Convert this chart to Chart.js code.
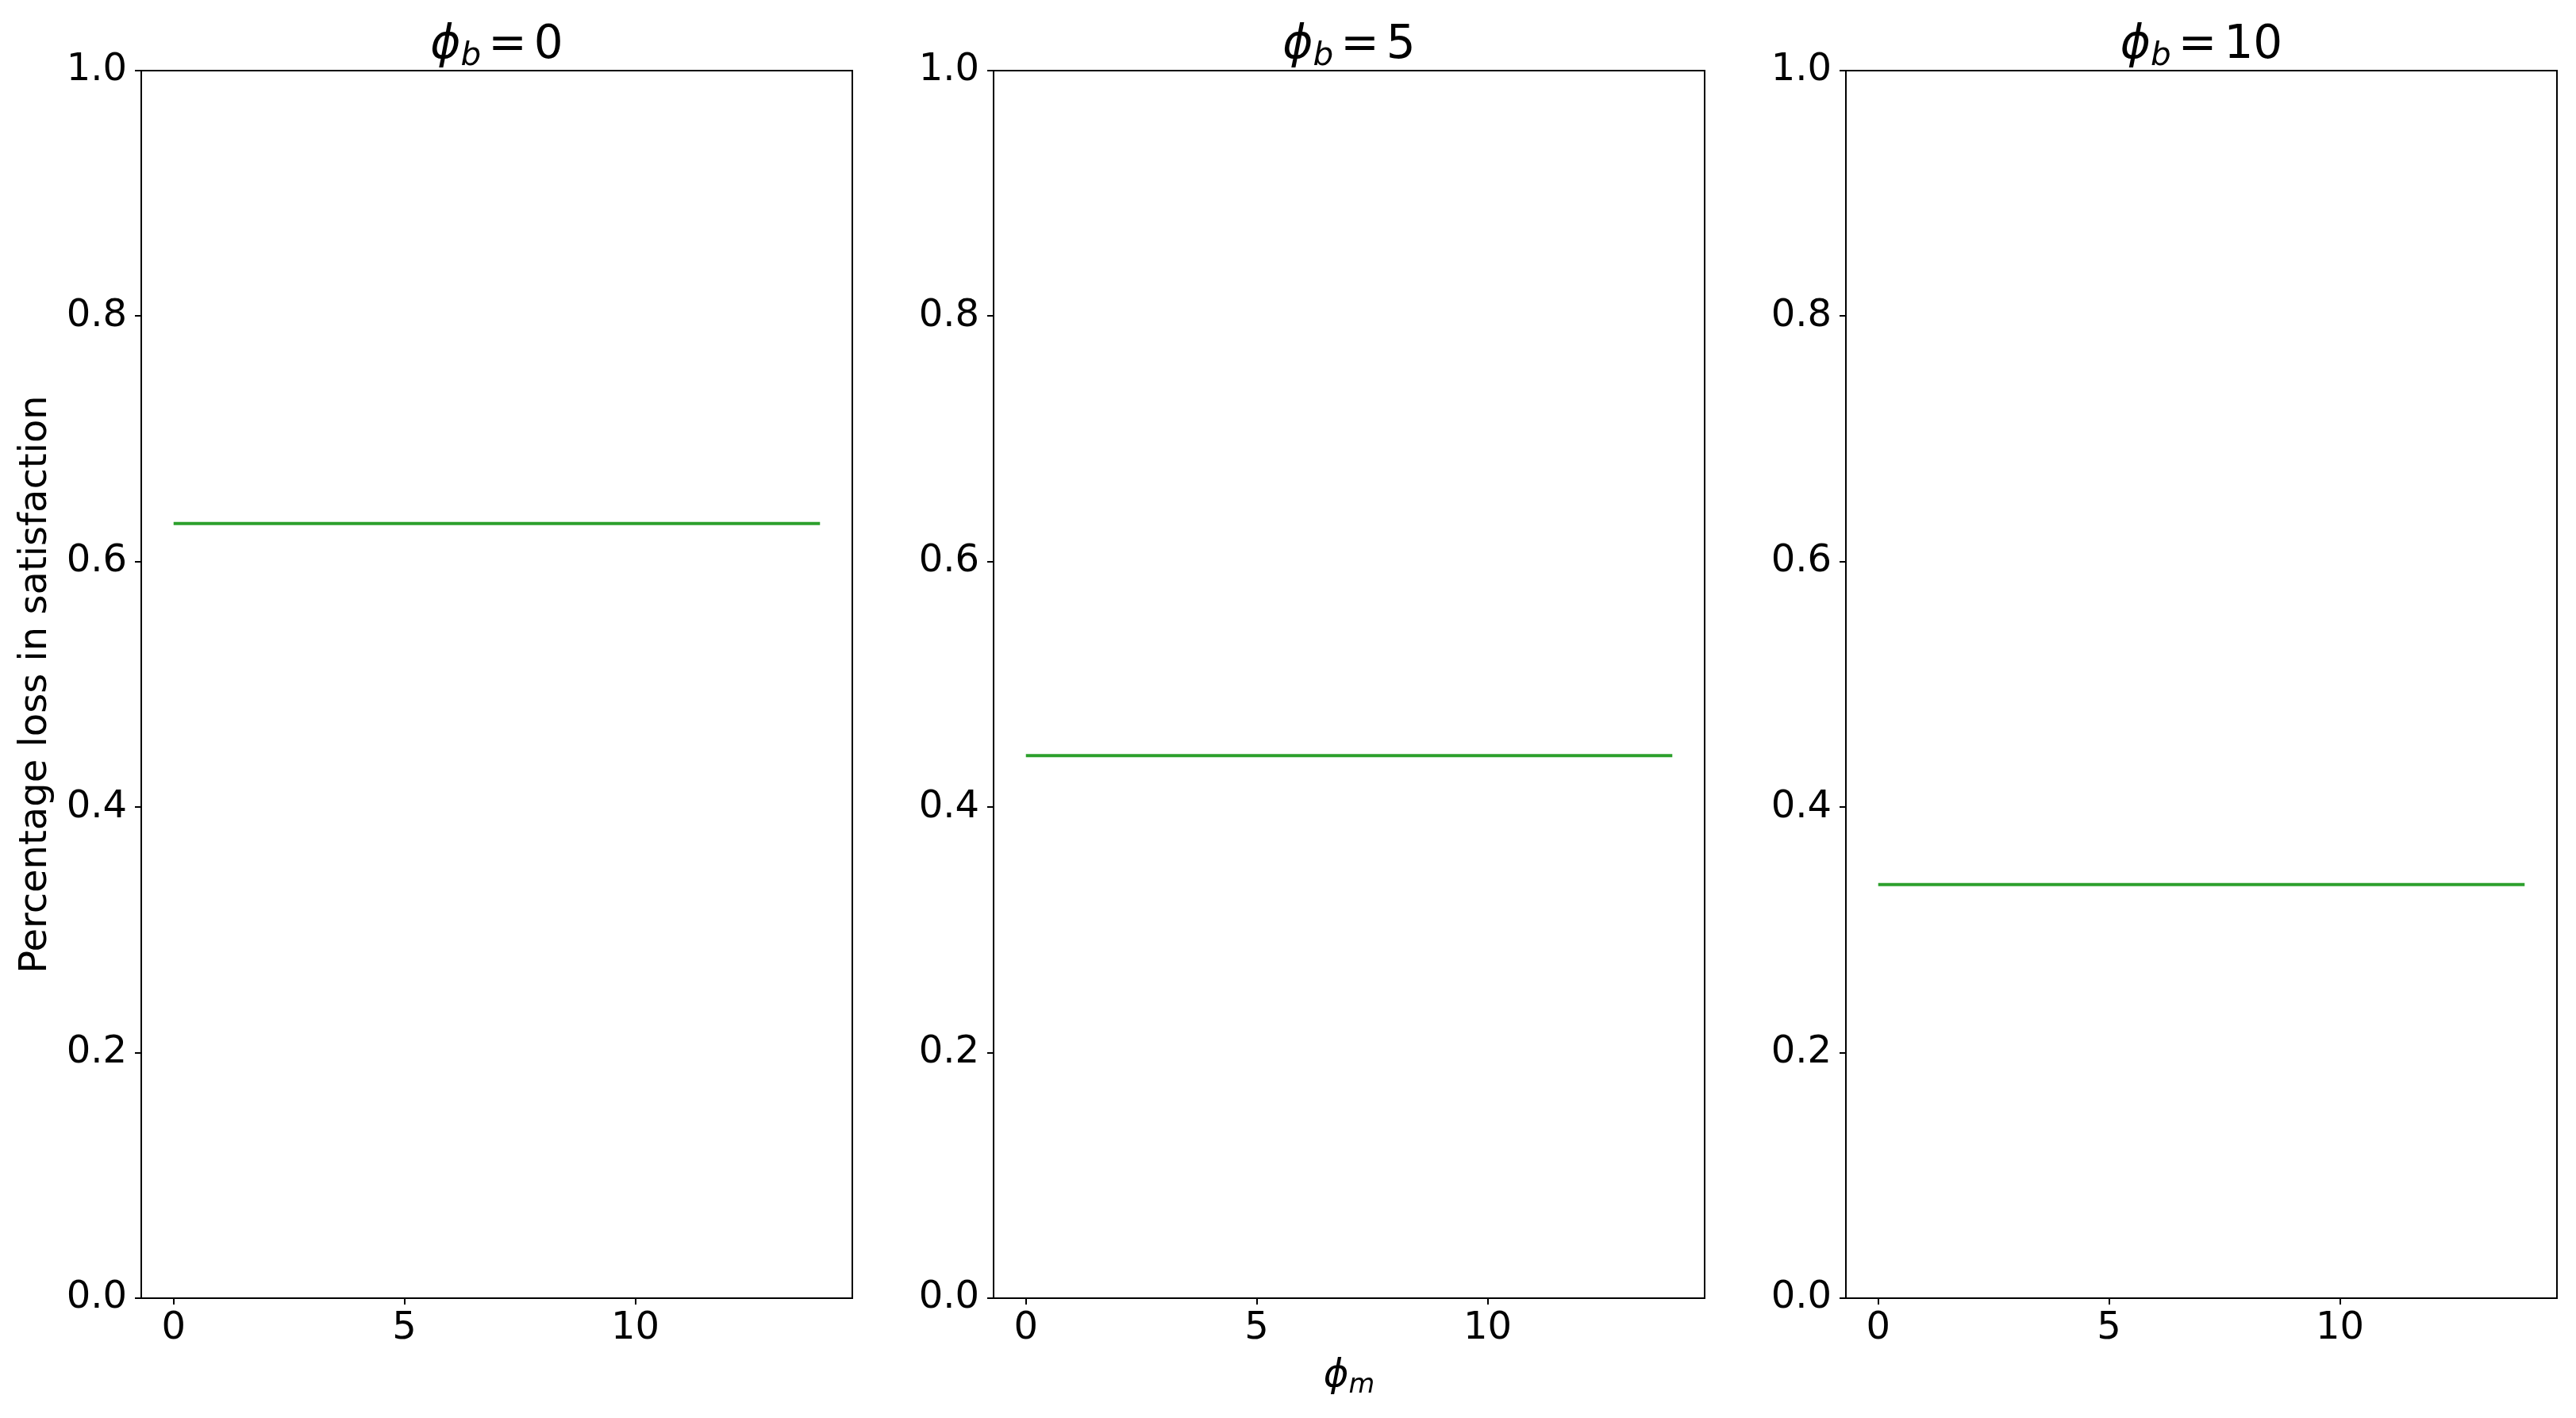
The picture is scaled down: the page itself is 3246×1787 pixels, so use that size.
<!DOCTYPE html>
<html>
<head>
<meta charset="utf-8">
<script src="https://cdn.jsdelivr.net/npm/chart.js@4.4.0/dist/chart.umd.min.js"></script>
<style>
  body { margin: 0; background: #fff; width: 3246px; height: 1787px; overflow: hidden; position: relative; }
  canvas { position: absolute; top: 0; }
</style>
</head>
<body>
<canvas id="panel0" width="1080" height="1787" style="left:0px"></canvas>
<canvas id="panel1" width="1080" height="1787" style="left:1074px"></canvas>
<canvas id="panel2" width="1080" height="1787" style="left:2148px"></canvas>
<script>
// values
const phiM = [0, 1, 2, 3, 4, 5, 6, 7, 8, 9, 10, 11, 12, 13, 14];
const phiB = [0, 5, 10];
const lossPhiB0 = [0.631, 0.631, 0.631, 0.631, 0.631, 0.631, 0.631, 0.631, 0.631, 0.631, 0.631, 0.631, 0.631, 0.631, 0.631];
const lossPhiB5 = [0.442, 0.442, 0.442, 0.442, 0.442, 0.442, 0.442, 0.442, 0.442, 0.442, 0.442, 0.442, 0.442, 0.442, 0.442];
const lossPhiB10 = [0.337, 0.337, 0.337, 0.337, 0.337, 0.337, 0.337, 0.337, 0.337, 0.337, 0.337, 0.337, 0.337, 0.337, 0.337];
const xTicks = [0, 5, 10];
const yTicks = [0, 0.2, 0.4, 0.6, 0.8, 1.0];
const yLabel = 'Percentage loss in satisfaction';

const series = [lossPhiB0, lossPhiB5, lossPhiB10];
const FONT = "'DejaVu Sans', sans-serif";

// draws phi with subscript etc, pad = extra space around a piece
function drawMath(ctx, cx, baseline, size, parts) {
    let total = 0;
    parts.forEach(p => {
        ctx.font = (p.italic ? 'italic ' : '') + (p.sub ? size * 0.7 : size) + 'px ' + FONT;
        p.w = ctx.measureText(p.t).width + 2 * (p.pad || 0);
        total += p.w;
    });
    let x = cx - total / 2;
    ctx.fillStyle = '#000';
    ctx.textAlign = 'left';
    ctx.textBaseline = 'alphabetic';
    parts.forEach(p => {
        ctx.font = (p.italic ? 'italic ' : '') + (p.sub ? size * 0.7 : size) + 'px ' + FONT;
        ctx.fillText(p.t, x + (p.pad || 0), baseline + (p.sub ? size * 0.16 : 0));
        x += p.w;
    });
}

const framePlugin = {
    id: 'frame',
    afterDraw(chart, args, opts) {
        const ctx = chart.ctx;
        const a = chart.chartArea;
        ctx.save();
        ctx.strokeStyle = '#000';
        ctx.lineWidth = 2;
        ctx.strokeRect(a.left, a.top, a.right - a.left, a.bottom - a.top);
        const cx = (a.left + a.right) / 2;
        drawMath(ctx, cx, 73, 58, [
            { t: '\u03D5', italic: true },
            { t: 'b', italic: true, sub: true },
            { t: '=', pad: 9 },
            { t: String(opts.phiB) }
        ]);
        if (opts.xLabel) {
            drawMath(ctx, cx, 1747, 48, [
                { t: '\u03D5', italic: true },
                { t: 'm', italic: true, sub: true }
            ]);
        }
        ctx.restore();
    }
};

series.forEach((values, i) => {
    const ctx = document.getElementById('panel' + i).getContext('2d');
    new Chart(ctx, {
        type: 'line',
        data: {
            datasets: [{
                data: phiM.map((x, j) => ({ x: x, y: values[j] })),
                borderColor: '#2ca02c',
                borderWidth: 4,
                pointRadius: 0,
                fill: false
            }]
        },
        options: {
            responsive: false,
            animation: false,
            layout: { padding: { top: 89, right: 6, bottom: 0, left: 0 } },
            plugins: {
                legend: { display: false },
                tooltip: { enabled: false },
                frame: { phiB: phiB[i], xLabel: i === 1 }
            },
            scales: {
                x: {
                    type: 'linear',
                    min: -0.7,
                    max: 14.7,
                    afterBuildTicks: s => { s.ticks = xTicks.map(v => ({ value: v })); },
                    afterFit: s => { s.height = 151; },
                    border: { display: false },
                    grid: { drawOnChartArea: false, drawTicks: true, tickLength: 8, color: '#000', lineWidth: 2 },
                    ticks: { color: '#000', font: { family: FONT, size: 48 }, padding: 2, maxRotation: 0 }
                },
                y: {
                    type: 'linear',
                    min: 0,
                    max: 1,
                    afterBuildTicks: s => { s.ticks = yTicks.map(v => ({ value: v })); },
                    afterFit: s => { s.width = 178; },
                    border: { display: false },
                    grid: { drawOnChartArea: false, drawTicks: true, tickLength: 8, color: '#000', lineWidth: 2 },
                    ticks: {
                        color: '#000',
                        font: { family: FONT, size: 48 },
                        padding: 10,
                        callback: v => v.toFixed(1)
                    },
                    title: {
                        display: i === 0,
                        text: yLabel,
                        color: '#000',
                        font: { family: FONT, size: 48 },
                        padding: { top: 17, bottom: 0 }
                    }
                }
            }
        },
        plugins: [framePlugin]
    });
});
</script>
</body>
</html>
